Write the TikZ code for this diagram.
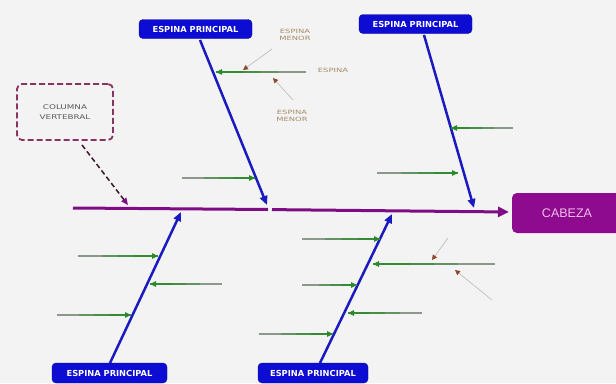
\documentclass[tikz,border=0pt]{standalone}
\usepackage{fontspec}
\setmainfont{DejaVu Sans}
\newfontfamily\headfont{Liberation Sans}
\usetikzlibrary{arrows.meta,calc}
\definecolor{bg}{HTML}{F3F3F3}
\definecolor{spinepurple}{HTML}{7E0C84}
\definecolor{headpurple}{HTML}{8E0A8E}
\definecolor{headtext}{HTML}{F2BDEB}
\definecolor{boneblue}{HTML}{1A1AC0}
\definecolor{boxblue}{HTML}{0C0CD2}
\definecolor{ribgreen}{HTML}{2A8A2A}
\definecolor{ribline}{HTML}{8C988C}
\definecolor{notetan}{HTML}{A58B6A}
\definecolor{notebrown}{HTML}{8A4A2A}
\definecolor{dashpurple}{HTML}{8A3262}
% a minor bone: grey tail fading into a green head
\newcommand\ribline[2]{%
  \draw[draw=ribline, line width=1.3pt] (#1) -- (#2);
  \draw[draw=ribgreen!40!ribline, line width=1.3pt] ($(#1)!0.3!(#2)$) -- (#2);
  \draw[draw=ribgreen!70!ribline, line width=1.3pt] ($(#1)!0.5!(#2)$) -- (#2);
  \draw[draw=ribgreen!90!ribline, line width=1.3pt,
    -{Triangle[length=6pt,width=5.5pt,color=ribgreen]}] ($(#1)!0.7!(#2)$) -- (#2);}
\newcommand\widetext[2]{\scalebox{#1}[1]{#2}}
\begin{document}
\begin{tikzpicture}[x=1pt,y=-1pt,
  mainbox/.style={draw=boxblue!75!black, fill=boxblue, rounded corners=4pt,
    minimum width=113pt, minimum height=19pt, inner sep=0pt, text=white,
    font=\bfseries\fontsize{8.3}{9}\selectfont},
  bone/.style={draw=boneblue, line width=2.5pt, -{Triangle[length=9pt,width=7.5pt]}},
  note/.style={text=notetan, font=\fontsize{5.8}{6.8}\selectfont, align=center, inner sep=0pt},
  pointer/.style={draw=gray!50, line width=0.7pt, -{Triangle[length=5pt,width=5pt,color=notebrown]}}]

% canvas
\useasboundingbox (0,0) rectangle (616,383);
\fill[bg] (0,0) rectangle (616,383);
\clip (0,0) rectangle (616,383);

% head
\fill[headpurple, rounded corners=5pt] (512,193) rectangle (622,233);
\node[text=headtext, font=\headfont\fontsize{12.5}{13}\selectfont] (head) at (567,213) {CABEZA};

% backbone
\coordinate (sA) at (73,208);
\coordinate (sB) at (268,209.5);
\coordinate (sC) at (272,209.6);
\coordinate (sD) at (509,212);
\draw[spinepurple, line width=3pt] (sA) -- (sB);
\draw[spinepurple, line width=3pt, -{Triangle[length=11pt,width=10pt]}] (sC) -- (sD);

% vertebral column label
\node[draw=dashpurple, line width=1.8pt, dash pattern=on 6pt off 3pt, rounded corners=5pt,
  minimum width=96pt, minimum height=56pt, inner sep=0pt, align=center,
  text=black!65, font=\fontsize{6.5}{10}\selectfont] (col) at (65,112)
  {\widetext{1.35}{COLUMNA}\\\widetext{1.35}{VERTEBRAL}};
\coordinate (colA) at (82,145);
\coordinate (colTip) at (128,205);
\draw[black!55!dashpurple, line width=1.5pt, dash pattern=on 5pt off 3pt,
  -{Triangle[length=7pt,width=6pt,color=spinepurple]}] (colA) -- (colTip);

% main bones
\node[mainbox] (tl) at (195.5,29) {ESPINA PRINCIPAL};
\node[mainbox] (tr) at (415.5,24) {ESPINA PRINCIPAL};
\node[mainbox, minimum width=115pt, minimum height=20pt] (bl) at (109.5,373) {ESPINA PRINCIPAL};
\node[mainbox, minimum width=110pt, minimum height=20pt] (br) at (313,373) {ESPINA PRINCIPAL};

\coordinate (tlA) at (200,40);  \coordinate (tlB) at (267,205);
\coordinate (trA) at (424,35);  \coordinate (trB) at (474,208);
\coordinate (blA) at (110,363); \coordinate (blB) at (181,212);
\coordinate (brA) at (320,363); \coordinate (brB) at (392,214);
\draw[bone] (tlA) -- (tlB);
\draw[bone] (trA) -- (trB);
\draw[bone] (blA) -- (blB);
\draw[bone] (brA) -- (brB);

% minor bones
\ribline{306,72}{216,72}
\ribline{182,178}{255,178}
\ribline{513,128}{451,128}
\ribline{377,173}{458,173}
\ribline{78,256}{158,256}
\ribline{222,284}{150,284}
\ribline{57,315}{131,315}
\ribline{302,239}{380,239}
\ribline{495,264}{373,264}
\ribline{302,285}{357,285}
\ribline{422,313}{348,313}
\ribline{259,334}{333,334}

% minor bone notes
\node[note] (m1) at (295,35) {\widetext{1.45}{ESPINA}\\\widetext{1.45}{MENOR}};
\node[note] (m2) at (292,116) {\widetext{1.45}{ESPINA}\\\widetext{1.45}{MENOR}};
\node[note] (m3) at (333,70) {\widetext{1.45}{ESPINA}};
\draw[pointer] (272,49) -- (243,70);
\draw[pointer] (293,100) -- (273,78);
\draw[pointer] (448,238) -- (432,260);
\draw[pointer] (492,300) -- (455,270);
\end{tikzpicture}
\end{document}
